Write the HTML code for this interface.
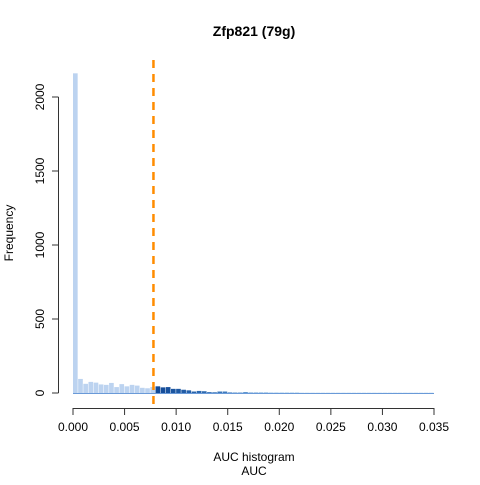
<!DOCTYPE html>
<html><head><meta charset="utf-8"><style>
body{margin:0;background:#fff;font-family:"Liberation Sans",sans-serif}
</style></head><body>
<svg width="480" height="480" id="c" xmlns="http://www.w3.org/2000/svg" font-family="Liberation Sans, sans-serif">
<text x="254" y="36" text-anchor="middle" font-weight="bold" font-size="14">Zfp821 (79g)</text>
<text x="254" y="461" text-anchor="middle" font-size="12">AUC histogram</text>
<text x="254" y="475" text-anchor="middle" font-size="12">AUC</text>
<text transform="translate(13,233) rotate(-90)" text-anchor="middle" font-size="12">Frequency</text>
<g id="bars"></g><g id="axes"></g>
</svg>
<script>
const binWidth = 0.0005;
const counts = [2160,95,62,75,70,58,55,68,40,60,45,55,50,35,32,40,45,38,40,28,28,22,18,10,14,12,6,5,10,10,4,3,3,6,3,3,3,3,2,2,2,2,2,2,1,1,1,1,1,1,1,1,1,1,1,1,1,1,1,1,1,1,1,1,1,1,1,1,1,1];
const threshold = 0.0078;
const xTicks = [0,0.005,0.010,0.015,0.020,0.025,0.030,0.035];
const yTicks = [0,500,1000,1500,2000];
const NS="http://www.w3.org/2000/svg";
const X=v=>73+v/0.035*361, Y=v=>393-v*0.148;
const bars=document.getElementById('bars'), axes=document.getElementById('axes');
function mk(t,a,p){const e=document.createElementNS(NS,t);for(const k in a)e.setAttribute(k,a[k]);p.appendChild(e);return e;}
counts.forEach((c,i)=>{
  const x0=i*binWidth;
  let fill='#bcd3f0';
  if(x0>=threshold){const d=Math.min(1,(x0-threshold)/0.012);
    const r=Math.round(16+d*80),g=Math.round(72+d*90),b=Math.round(150+d*70);fill=`rgb(${r},${g},${b})`;}
  const r=mk('rect',{x:X(x0),y:Y(c),width:X(binWidth)-X(0)-0.5,height:Y(0)-Y(c),fill:fill},bars);
  
  
});
const bl=mk('line',{x1:X(0),x2:X(0.035),y1:393.5,y2:393.5,stroke:'#6a9ad8','stroke-width':1},bars);


const th=mk('line',{x1:X(threshold),x2:X(threshold),y1:60,y2:408,stroke:'#ff8c00','stroke-width':2.5,'stroke-dasharray':'8,6'},bars);


const xa=mk('line',{x1:X(0),x2:X(0.035),y1:408.5,y2:408.5,stroke:'#333'},axes);


xTicks.forEach(v=>{
  mk('line',{x1:X(v),x2:X(v),y1:408,y2:415,stroke:'#333'},axes);
  const t=mk('text',{x:X(v),y:431,'text-anchor':'middle','font-size':12},axes);t.textContent=v.toFixed(3);
  
  
});
const ya=mk('line',{x1:58.5,x2:58.5,y1:Y(0),y2:Y(2000),stroke:'#333'},axes);


yTicks.forEach(v=>{
  mk('line',{x1:52,x2:58.5,y1:Y(v),y2:Y(v),stroke:'#333'},axes);
  const t=mk('text',{transform:`translate(44,${Y(v)}) rotate(-90)`,'text-anchor':'middle','font-size':12},axes);t.textContent=v;
  
  
});
</script>
</body></html>
